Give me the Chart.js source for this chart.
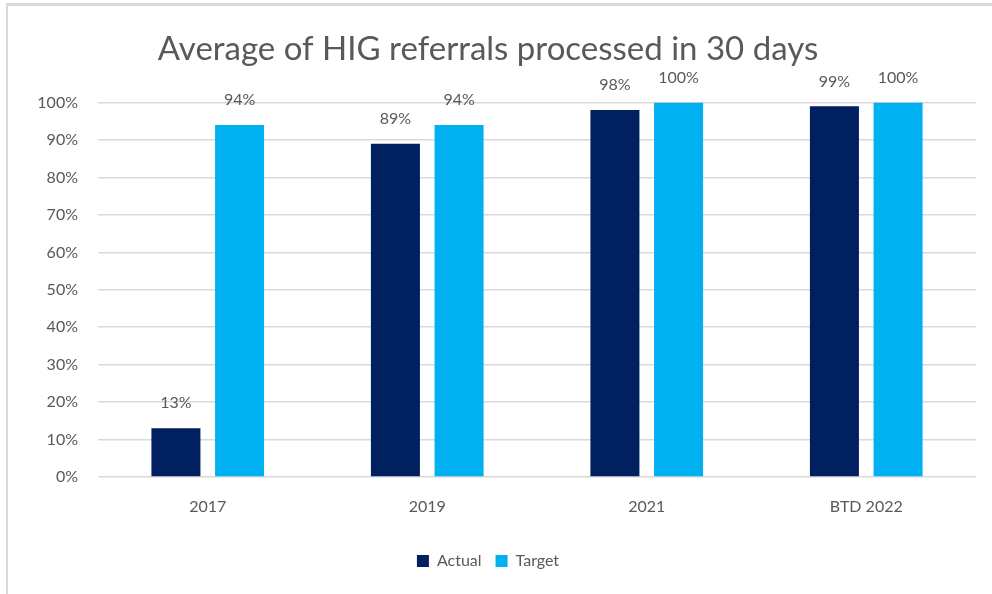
<!DOCTYPE html>
<html lang="en">
<head>
  <meta charset="UTF-8">
  <title>Average of HIG referrals processed in 30 days</title>
  <script src="https://cdn.jsdelivr.net/npm/chart.js"></script>
  <style>
    body {
      margin: 0;
      background: #fff;
    }
    #wrap {
      position: relative;
      width: 992px;
      height: 594px;
    }
    #frame {
      position: absolute;
      left: 6px;
      top: 3px;
      right: 0;
      bottom: 0;
      border-top: 3px solid #d9d9d9;
      border-left: 2px solid #d9d9d9;
      pointer-events: none;
    }
  </style>
</head>
<body>
  <div id="wrap">
    <canvas id="chart" width="992" height="594"></canvas>
    <div id="frame"></div>
  </div>

  <script>
    const categories = ['2017', '2019', '2021', 'BTD 2022'];
    const actual = [13, 89, 98, 99];
    const target = [94, 94, 100, 100];
    const yTicks = [0, 10, 20, 30, 40, 50, 60, 70, 80, 90, 100];

    const grey = '#595959';
    const font = 'Lato, "Open Sans", sans-serif';

    // etiquettes de valeur au-dessus des barres
    const valueLabels = {
      id: 'valueLabels',
      afterDatasetsDraw(chart) {
        const ctx = chart.ctx;
        ctx.save();
        ctx.font = '16px ' + font;
        ctx.fillStyle = grey;
        ctx.textAlign = 'center';
        ctx.textBaseline = 'middle';
        chart.data.datasets.forEach((ds, i) => {
          chart.getDatasetMeta(i).data.forEach((bar, j) => {
            ctx.fillText(ds.data[j] + '%', bar.x, bar.y - 25);
          });
        });
        ctx.restore();
      }
    };

    new Chart(document.getElementById('chart'), {
      type: 'bar',
      data: {
        labels: categories,
        datasets: [
          { label: 'Actual', data: actual, backgroundColor: '#002060' },
          { label: 'Target', data: target, backgroundColor: '#00B0F0' }
        ]
      },
      options: {
        responsive: false,
        animation: false,
        categoryPercentage: 0.58,
        barPercentage: 0.77,
        layout: { padding: { left: 0, right: 16, top: 0, bottom: 15 } },
        plugins: {
          title: {
            display: true,
            text: 'Average of HIG referrals processed in 30 days',
            color: grey,
            font: { family: font, size: 33, weight: 'normal' },
            padding: { top: 30, bottom: 33 }
          },
          legend: {
            position: 'bottom',
            labels: {
              color: grey,
              font: { family: font, size: 16 },
              boxWidth: 12,
              boxHeight: 12,
              padding: 14
            }
          },
          tooltip: { enabled: false }
        },
        scales: {
          x: {
            grid: { display: false, drawTicks: false },
            border: { display: false },
            ticks: { color: grey, font: { family: font, size: 16 }, padding: 20 },
            afterFit(scale) { scale.height = 62; }
          },
          y: {
            min: 0,
            max: 100,
            afterBuildTicks(scale) { scale.ticks = yTicks.map(v => ({ value: v })); },
            grid: { color: '#d9d9d9', lineWidth: 1.5, drawTicks: false },
            border: { display: false },
            ticks: {
              color: grey,
              font: { family: font, size: 16 },
              padding: 20,
              callback: v => v + '%'
            },
            afterFit(scale) { scale.width = 98; }
          }
        }
      },
      plugins: [valueLabels]
    });
  </script>
</body>
</html>
